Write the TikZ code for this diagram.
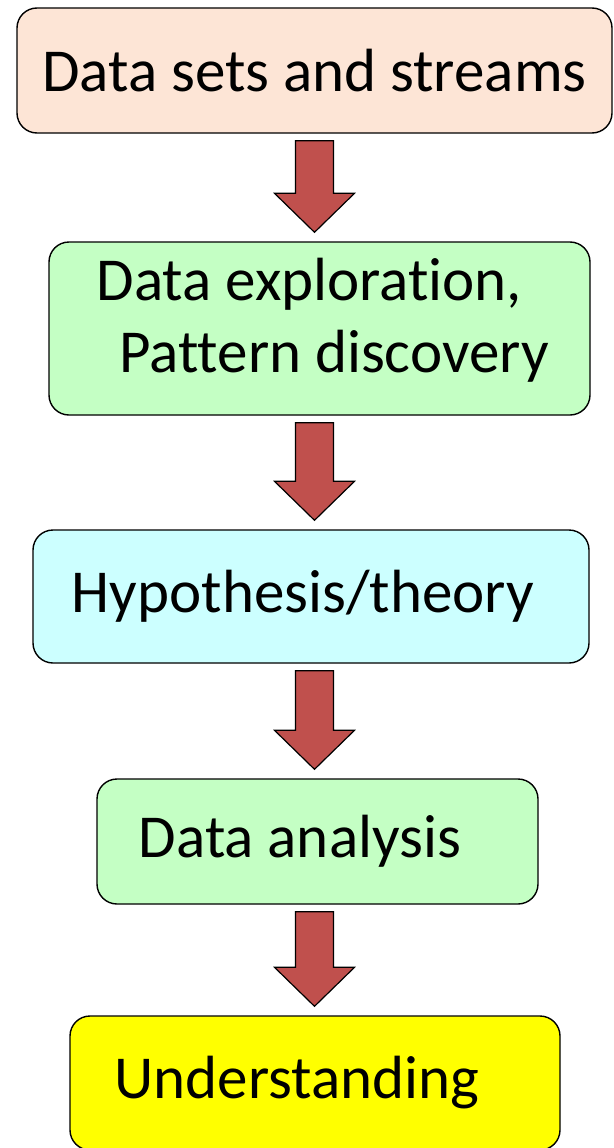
\documentclass[tikz,border=0pt]{standalone}
\usepackage{fontspec}
\setmainfont[Ligatures={NoCommon,NoRequired,NoContextual}]{Carlito}
\usetikzlibrary{calc}

\definecolor{peach}{RGB}{253,229,214}
\definecolor{mint}{RGB}{196,255,196}
\definecolor{skyice}{RGB}{204,255,255}
\definecolor{lemon}{RGB}{255,255,0}
\definecolor{arrowred}{RGB}{192,80,77}

% fat block arrow from the bottom of one box to the top of the next
\newcommand{\fatarrow}[2]{%
  \draw[fat] let \p1=(#1.south), \p2=(#2.north), \p3=(spine) in
    (\x3-19pt,\y1-7pt) -- (\x3+19pt,\y1-7pt) -- (\x3+19pt,\y2+48pt) --
    (\x3+40pt,\y2+48pt) -- (\x3,\y2+9pt) -- (\x3-40pt,\y2+48pt) --
    (\x3-19pt,\y2+48pt) -- cycle;}

\begin{document}
\begin{tikzpicture}[x=1pt, y=-1pt]
% styles
\tikzstyle{block} = [rectangle, rounded corners=20pt, draw, line width=1.4pt, inner sep=0pt, align=center, font=\fontsize{61}{72}\selectfont]
\tikzstyle{fat} = [draw, line width=1.2pt, fill=arrowred, line join=miter]

\useasboundingbox (0,0) rectangle (613,1148);
\coordinate (spine) at (314.5,0);

% boxes
\node [block, fill=peach, minimum width=595, minimum height=125] (sets) at (314.5,70.5) {Data sets and streams};
\node [block, fill=mint, minimum width=541, minimum height=173] (explore) at (319.5,328.5) {Data explorat\kern0pt ion,\hspace*{20pt}\mbox{}\\\hspace*{29pt}Pattern discovery\\[-46pt]\mbox{}};
\node [block, fill=skyice, minimum width=556, minimum height=133] (hypo) at (311,596.5) {Hypothesis/theory\hspace*{16pt}\mbox{}};
\node [block, fill=mint, minimum width=441, minimum height=125] (analysis) at (317.5,841.5) {Data analysis\hspace*{35pt}\mbox{}};
\node [block, fill=lemon, minimum width=490, minimum height=134] (underst) at (315,1083) {Understanding\hspace*{36pt}\mbox{}};

% arrows
\fatarrow{sets}{explore}
\fatarrow{explore}{hypo}
\fatarrow{hypo}{analysis}
\fatarrow{analysis}{underst}
\end{tikzpicture}
\end{document}
